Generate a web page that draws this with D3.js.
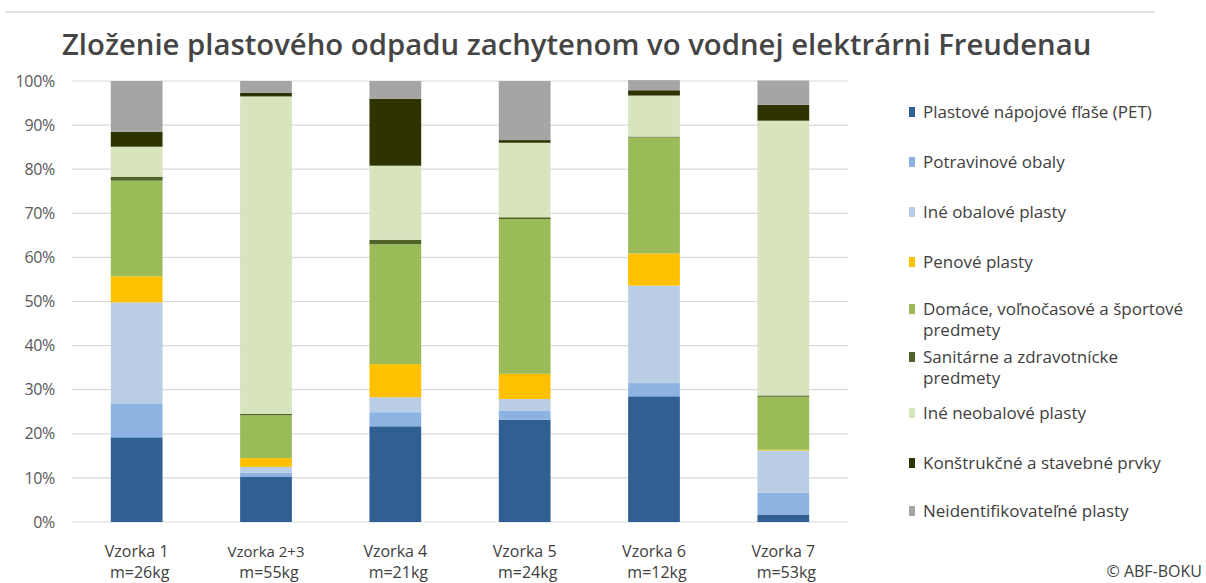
<!DOCTYPE html>
<html>
<head>
<meta charset="utf-8">
<script src="https://cdn.jsdelivr.net/npm/d3@7"></script>
<style>
  body { margin: 0; background: #fff; }
  text { font-family: "Open Sans", sans-serif; }
</style>
</head>
<body>
<script>
// data (percent of sample mass)
var samples = ["Vzorka 1", "Vzorka 2+3", "Vzorka 4", "Vzorka 5", "Vzorka 6", "Vzorka 7"];
var masses = ["m=26kg", "m=55kg", "m=21kg", "m=24kg", "m=12kg", "m=53kg"];
var categories = [
  "Plastové nápojové fľaše (PET)",
  "Potravinové obaly",
  "Iné obalové plasty",
  "Penové plasty",
  "Domáce, voľnočasové a športové predmety",
  "Sanitárne a zdravotnícke predmety",
  "Iné neobalové plasty",
  "Konštrukčné a stavebné prvky",
  "Neidentifikovateľné plasty"
];
var pet        = [19.2, 10.2, 21.7, 23.2, 28.5, 1.7];
var potraviny  = [7.7, 1.0, 3.2, 2.1, 3.0, 4.9];
var ineObalove = [22.9, 1.3, 3.4, 2.6, 22.1, 9.6];
var penove     = [5.9, 2.0, 7.5, 5.7, 7.3, 0.2];
var domace     = [21.7, 9.7, 27.2, 35.1, 26.3, 12.0];
var sanitarne  = [0.9, 0.3, 1.0, 0.4, 0.2, 0.3];
var ineNeobal  = [6.8, 72.0, 16.8, 16.9, 9.3, 62.3];
var konstrukcne = [3.4, 0.8, 15.2, 0.6, 1.2, 3.6];
var neident    = [11.5, 2.7, 4.0, 13.4, 2.3, 5.5];
var yTicks = [0, 10, 20, 30, 40, 50, 60, 70, 80, 90, 100];

var series = [pet, potraviny, ineObalove, penove, domace, sanitarne, ineNeobal, konstrukcne, neident];
var colors = ["#2f5f93", "#8db3e2", "#b9cde5", "#ffc000", "#9bbb59", "#4f6228", "#d7e4bd", "#2f3300", "#a5a5a5"];

var W = 1206, H = 583;
var svg = d3.select("body").append("svg")
  .attr("width", W)
  .attr("height", H);

// thin rule at the very top
svg.append("line")
  .attr("x1", 5).attr("x2", 1155)
  .attr("y1", 12).attr("y2", 12)
  .attr("stroke", "#dcdcdc").attr("stroke-width", 1.5);

var title = svg.append("text")
  .attr("x", 62).attr("y", 55)
  .attr("fill", "#454545")
  .attr("font-weight", 600)
  .attr("font-size", 28)
  .text("Zloženie plastového odpadu zachytenom vo vodnej elektrárni Freudenau");
// fit title to its width in the picture
var tl = title.node().getComputedTextLength();
title.attr("font-size", 28 * 1030 / tl);

var x = d3.scaleBand()
  .domain(samples)
  .range([72, 848])
  .paddingInner(0.6)
  .paddingOuter(0.3);

var y = d3.scaleLinear()
  .domain([0, 100])
  .range([522, 81]);

// gridlines
svg.append("g")
  .selectAll("line")
  .data(yTicks)
  .enter().append("line")
  .attr("x1", 72).attr("x2", 848)
  .attr("y1", function(d) { return y(d); })
  .attr("y2", function(d) { return y(d); })
  .attr("stroke", "#d9d9d9")
  .attr("stroke-width", 1.2);

// y axis labels
var yAxis = d3.axisLeft(y)
  .tickValues(yTicks)
  .tickSize(0)
  .tickPadding(0)
  .tickFormat(function(d) { return d + "%"; });
var gy = svg.append("g")
  .attr("transform", "translate(55,0)")
  .call(yAxis);
gy.select(".domain").remove();
gy.selectAll("text")
  .attr("font-family", "Open Sans, sans-serif")
  .attr("font-size", 16)
  .attr("letter-spacing", -0.3)
  .attr("fill", "#595959");

// stacked bars
var rows = samples.map(function(s, i) {
  var r = { sample: s };
  categories.forEach(function(c, k) { r[c] = series[k][i]; });
  return r;
});
var stack = d3.stack().keys(categories)(rows);

svg.append("g")
  .selectAll("g")
  .data(stack)
  .enter().append("g")
  .attr("fill", function(d, k) { return colors[k]; })
  .selectAll("rect")
  .data(function(d) { return d; })
  .enter().append("rect")
  .attr("x", function(d) { return x(d.data.sample); })
  .attr("width", x.bandwidth())
  .attr("y", function(d) { return y(d[1]); })
  .attr("height", function(d) { return y(d[0]) - y(d[1]); });

// x labels (two lines)
var xl = svg.append("g")
  .selectAll("text")
  .data(samples)
  .enter().append("text")
  .attr("text-anchor", "middle")
  .attr("fill", "#404040")
  .attr("font-size", function(d) { return d === "Vzorka 2+3" ? 15 : 16; })
  .attr("x", function(d) { return x(d) + x.bandwidth() / 2; })
  .attr("y", 557);
xl.append("tspan")
  .text(function(d) { return d; });
xl.append("tspan")
  .attr("x", function(d) { return x(d) + x.bandwidth() / 2 + 3; })
  .attr("dy", 21)
  .attr("font-size", 16)
  .text(function(d, i) { return masses[i]; });

// legend
var legendY = [112, 162, 212, 262, 309, 357, 413, 463, 511];
var wrap = {
  "Domáce, voľnočasové a športové predmety": ["Domáce, voľnočasové a športové", "predmety"],
  "Sanitárne a zdravotnícke predmety": ["Sanitárne a zdravotnícke", "predmety"]
};
var leg = svg.append("g")
  .selectAll("g")
  .data(categories)
  .enter().append("g")
  .attr("transform", function(d, i) { return "translate(909," + legendY[i] + ")"; });
leg.append("rect")
  .attr("x", 0).attr("y", -5)
  .attr("width", 6).attr("height", 10)
  .attr("fill", function(d, i) { return colors[i]; });
leg.append("text")
  .attr("x", 14)
  .attr("y", 6)
  .attr("font-size", 17)
  .attr("fill", "#404040")
  .each(function(d) {
    var lines = wrap[d] || [d];
    var t = d3.select(this);
    lines.forEach(function(l, j) {
      t.append("tspan").attr("x", 14).attr("dy", j ? 21 : 0).text(l);
    });
  });

svg.append("text")
  .attr("x", 1202).attr("y", 577)
  .attr("text-anchor", "end")
  .attr("font-size", 16)
  .attr("fill", "#404040")
  .text("© ABF-BOKU");
</script>
</body>
</html>
